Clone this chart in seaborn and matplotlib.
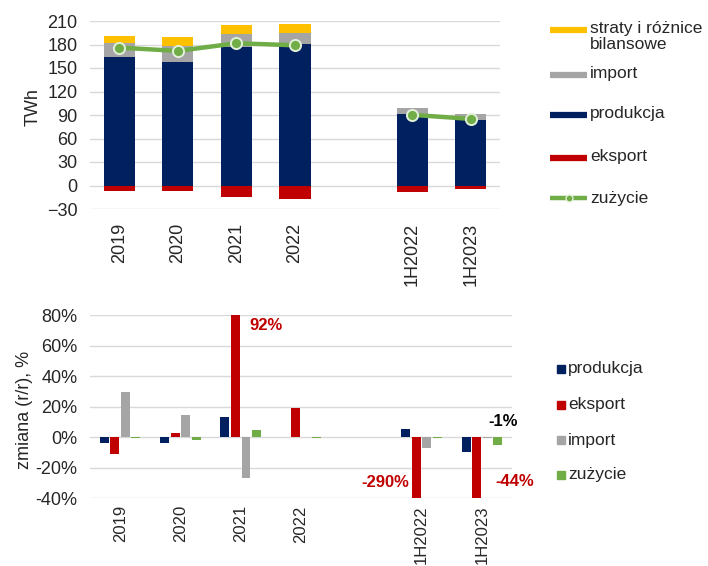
import numpy as np
import pandas as pd

import matplotlib
matplotlib.use("Agg")

import matplotlib.pyplot as plt
from matplotlib.lines import Line2D
import seaborn as sns


sns.set_style("white")
plt.rcParams["font.family"] = ["Liberation Sans", "DejaVu Sans"]

# data
periods = ["2019", "2020", "2021", "2022", "1H2022", "1H2023"]
order = ["2019", "2020", "2021", "2022", " ", "1H2022", "1H2023"]
segment = ["rok", "rok", "rok", "rok", "polrocze", "polrocze"]

produkcja = [163.8, 158.2, 176.5, 180.4, 91.5, 83.8]
import_twh = [17.8, 20.0, 17.0, 14.8, 7.2, 7.3]
straty = [9.8, 11.5, 11.1, 10.6, 0.0, 0.0]
eksport = [-6.4, -6.4, -14.4, -17.0, -8.1, -5.1]
zuzycie = [176.0, 171.8, 181.6, 179.0, 90.2, 85.0]

series = ["produkcja", "eksport", "import", "zużycie"]
zm_produkcja = [-3.7, -3.7, 13.5, 0.0, 5.5, -9.8]
zm_eksport = [-11.3, 2.6, 92.0, 18.8, -290.0, -44.0]
zm_import = [29.5, 14.8, -26.6, 0.0, -7.2, -0.4]
zm_zuzycie = [-0.8, -2.0, 4.8, -0.8, -0.5, -5.0]

NAVY = "#002060"
RED = "#C00000"
GRAY = "#A5A5A5"
YELLOW = "#FFC000"
GREEN = "#70AD47"
GRID = "#D9D9D9"

fig = plt.figure(figsize=(7.08, 5.66), dpi=100)
ax1 = fig.add_axes([90 / 708, 1 - 209 / 566, 410 / 708, 188 / 566])
ax2 = fig.add_axes([90 / 708, 1 - 498.3 / 566, 422 / 708, 183.3 / 566])

# --- top: stacked balance -------------------------------------------------
prod = np.array(produkcja)
imp = prod + np.array(import_twh)
tot = imp + np.array(straty)
bar_kw = dict(order=order, width=0.53, saturation=1, linewidth=0, ax=ax1)
sns.barplot(x=periods, y=tot, color=YELLOW, **bar_kw)
sns.barplot(x=periods, y=imp, color=GRAY, **bar_kw)
sns.barplot(x=periods, y=prod, color=NAVY, **bar_kw)
sns.barplot(x=periods, y=eksport, color=RED, **bar_kw)

sns.pointplot(x=periods, y=zuzycie, hue=segment, order=order,
              palette=[GREEN, GREEN], errorbar=None, legend=False,
              linewidth=3.2, ax=ax1)
for ln in ax1.lines:
    ln.set_marker("o")
    ln.set_markersize(8)
    ln.set_markerfacecolor(GREEN)
    ln.set_markeredgecolor("#E2F0D9")
    ln.set_markeredgewidth(1.4)
    ln.set_zorder(5)

ax1.set_ylim(-30, 210)
ax1.set_yticks(np.arange(-30, 211, 30))
ax1.set_ylabel("TWh", fontsize=13, va="center")
ax1.yaxis.set_label_coords(-0.139, 0.54)

# --- bottom: y/y change ---------------------------------------------------
df = pd.DataFrame({
    "okres": periods * 4,
    "seria": np.repeat(series, len(periods)),
    "zmiana": zm_produkcja + zm_eksport + zm_import + zm_zuzycie,
})
sns.barplot(data=df, x="okres", y="zmiana", hue="seria", order=order,
            hue_order=series, palette=[NAVY, RED, GRAY, GREEN],
            width=0.7, gap=0.15, saturation=1, linewidth=0,
            legend=False, ax=ax2)
ax2.set_ylim(-40, 80)
ax2.set_yticks(np.arange(-40, 81, 20))
ax2.set_yticklabels([f"{v}%" for v in range(-40, 81, 20)])
ax2.set_ylabel("zmiana (r/r), %", fontsize=13, va="center")
ax2.yaxis.set_label_coords(-0.156, 0.48)

lab_kw = dict(fontsize=12, fontweight="bold", ha="center", va="center")
ax2.text(2.42, 73.4, "92%", color=RED, **lab_kw)
ax2.text(4.4, -29.5, "-290%", color=RED, **lab_kw)
ax2.text(6.55, -29.3, "-44%", color=RED, **lab_kw)
ax2.text(6.36, 10.5, "-1%", color="black", **lab_kw)

for ax, size, pad in ((ax1, 13, 10), (ax2, 12, 5)):
    ax.set_xlim(-0.5, len(order) - 0.5)
    ax.set_xlabel("")
    ax.yaxis.grid(True, color=GRID, lw=1)
    ax.set_axisbelow(True)
    sns.despine(ax=ax, left=True, bottom=True)
    ax.tick_params(axis="y", labelsize=13, length=0, pad=9)
    ax.tick_params(axis="x", labelsize=size, length=0, pad=pad,
                   labelrotation=90)

# --- legends (drawn by hand, Excel style) ---------------------------------
def fy(py):
    return 1 - py / 566


def fx(px):
    return px / 708


top_entries = [
    ("straty i różnice\nbilansowe", YELLOW, 30),
    ("import", GRAY, 75),
    ("produkcja", NAVY, 115),
    ("eksport", RED, 158),
]
for label, col, py in top_entries:
    fig.add_artist(Line2D([fx(550), fx(587)], [fy(py), fy(py)], color=col,
                          lw=4.5, solid_capstyle="butt"))
    fig.text(fx(590), fy(py - 9), label, fontsize=12.5, va="top", ha="left",
             linespacing=1.05)
fig.add_artist(Line2D([fx(550), fx(587)], [fy(198), fy(198)], color=GREEN,
                      lw=3.2, solid_capstyle="butt"))
fig.add_artist(Line2D([fx(568.5)], [fy(198)], marker="o", markersize=5,
                      markerfacecolor=GREEN, markeredgecolor="#E2F0D9",
                      markeredgewidth=1))
fig.text(fx(590), fy(198), "zużycie", fontsize=12.5, va="center", ha="left")

bottom_entries = [("produkcja", NAVY, 369), ("eksport", RED, 405),
                  ("import", GRAY, 440), ("zużycie", GREEN, 475)]
for label, col, py in bottom_entries:
    fig.add_artist(Line2D([fx(561)], [fy(py)], marker="s", markersize=5.5,
                          color=col, linestyle="none"))
    fig.text(fx(568), fy(py), label, fontsize=12.5, va="center", ha="left")

fig.savefig("out.png", dpi=100)
plt.close(fig)
